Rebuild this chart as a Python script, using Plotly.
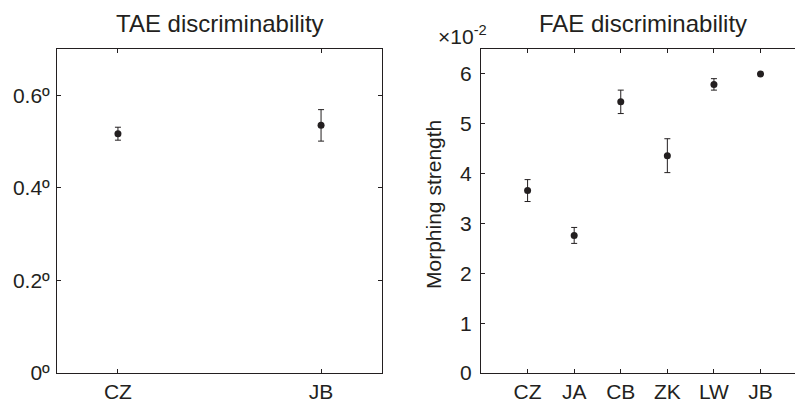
import plotly.graph_objects as go

W, H = 795, 399

# Left panel: TAE discriminability (degrees)
tae_subjects = ["CZ", "JB"]
tae_mean = [0.517, 0.535]
tae_err = [0.014, 0.034]
tae_yticks = [0, 0.2, 0.4, 0.6]
tae_yticklabels = ["0º", "0.2º", "0.4º", "0.6º"]

# Right panel: FAE discriminability (morphing strength, x10^-2)
fae_subjects = ["CZ", "JA", "CB", "ZK", "LW", "JB"]
fae_mean = [3.66, 2.76, 5.44, 4.36, 5.79, 6.00]
fae_err = [0.22, 0.16, 0.235, 0.34, 0.115, 0.0]
fae_yticks = [0, 1, 2, 3, 4, 5, 6]

INK = "#231f20"
FONT = "Liberation Sans, Arial, sans-serif"

fig = go.Figure()

fig.add_trace(go.Scatter(
    x=list(range(1, len(tae_subjects) + 1)), y=tae_mean,
    mode="markers",
    marker=dict(color=INK, size=7),
    error_y=dict(type="data", array=tae_err, visible=True, color=INK, thickness=1, width=3),
    xaxis="x", yaxis="y", showlegend=False,
))
fig.add_trace(go.Scatter(
    x=list(range(1, len(fae_subjects) + 1)), y=fae_mean,
    mode="markers",
    marker=dict(color=INK, size=7),
    error_y=dict(type="data", array=fae_err, visible=True, color=INK, thickness=1, width=3),
    xaxis="x2", yaxis="y2", showlegend=False,
))

ydom = [26 / H, 350 / H]
common_ax = dict(showgrid=False, zeroline=False, showline=True, linecolor=INK, linewidth=1,
                 ticks="inside", ticklen=4, tickcolor=INK, tickwidth=1,
                 tickfont=dict(family=FONT, size=21, color=INK), automargin=False, fixedrange=True)

fig.update_layout(
    width=W, height=H,
    margin=dict(l=0, r=0, t=0, b=0),
    paper_bgcolor="white", plot_bgcolor="white",
    xaxis=dict(domain=[57 / W, 382 / W], range=[0.7, 2.3],
               tickvals=list(range(1, len(tae_subjects) + 1)), ticktext=tae_subjects,
               mirror="ticks", anchor="y", **common_ax),
    yaxis=dict(domain=ydom, range=[0, 0.7], tickvals=tae_yticks, ticktext=tae_yticklabels,
               mirror="ticks", anchor="x", ticklabelstandoff=2, **common_ax),
    xaxis2=dict(domain=[481 / W, 1.0], range=[0, 6.74],
                tickvals=list(range(1, len(fae_subjects) + 1)), ticktext=fae_subjects,
                mirror="ticks", anchor="y2", **common_ax),
    yaxis2=dict(domain=ydom, range=[0, 6.5], tickvals=fae_yticks,
                ticktext=[str(v) for v in fae_yticks],
                mirror=False, anchor="x2", ticklabelstandoff=4, **common_ax),
)

ann_font = dict(family=FONT, color=INK)
fig.add_annotation(text="TAE discriminability", xref="paper", yref="paper",
                   x=220 / W, y=1 - 23 / H, showarrow=False, xanchor="center", yanchor="middle",
                   font=dict(size=24, **ann_font))
fig.add_annotation(text="FAE discriminability", xref="paper", yref="paper",
                   x=643 / W, y=1 - 23 / H, showarrow=False, xanchor="center", yanchor="middle",
                   font=dict(size=24, **ann_font))
fig.add_annotation(text="Morphing strength", xref="paper", yref="paper",
                   x=433 / W, y=1 - 205 / H, showarrow=False, textangle=-90,
                   xanchor="center", yanchor="middle", font=dict(size=21, **ann_font))
fig.add_annotation(text="×10<sup>-2</sup>", xref="paper", yref="paper",
                   x=436 / W, y=1 - 35 / H, showarrow=False, xanchor="left", yanchor="middle",
                   font=dict(size=21, **ann_font))

fig.write_html("out.html")
